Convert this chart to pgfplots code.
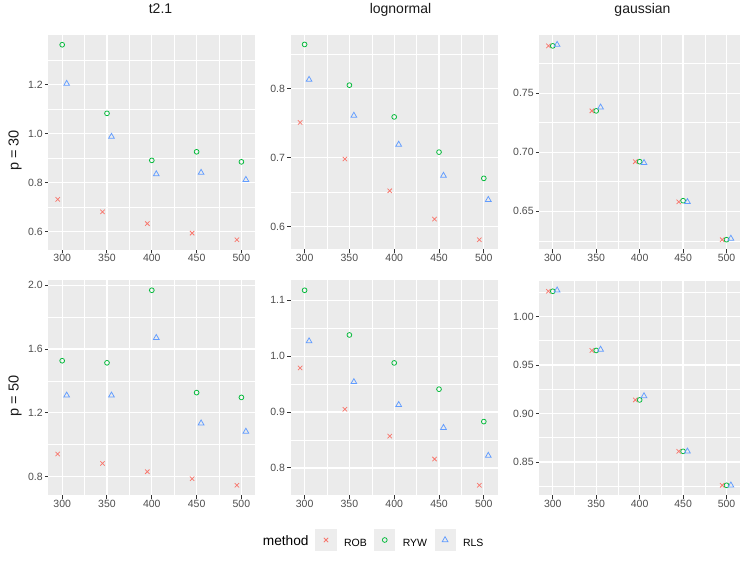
\documentclass[border=0pt]{standalone}
\usepackage{pgfplots}
\pgfplotsset{compat=1.18}
\usepackage{fontspec}
\setmainfont{Liberation Sans}
\definecolor{cROB}{HTML}{F8766D}
\definecolor{cRYW}{HTML}{00BA38}
\definecolor{cRLS}{HTML}{619CFF}
\definecolor{panelbg}{HTML}{EBEBEB}
\definecolor{tickcol}{HTML}{333333}
\definecolor{labcol}{HTML}{4D4D4D}
\definecolor{keybg}{HTML}{EDEDED}
\definecolor{titlecol}{HTML}{1A1A1A}
\pgfplotsset{
 gg/.style={
  scale only axis, width=207pt, height=214.5pt, anchor=north west,
  axis background/.style={fill=panelbg},
  axis line style={draw=none},
  grid=both,
  major grid style={white, line width=1.25pt},
  minor grid style={white, line width=0.6pt},
  tick align=outside, major tick length=3.5pt, minor tick length=0pt,
  tick style={tickcol, line width=1.0pt},
  tick pos=left,
  xmin=284.5, xmax=515.5,
  xtick={300,350,400,450,500},
  xticklabels={300,350,400,450,500},
  minor xtick={325,375,425,475},
  ticklabel style={font=\fontsize{10.5}{12}\selectfont, text=labcol},
  xticklabel style={inner sep=0pt, yshift=-1pt},
  yticklabel style={inner sep=0pt, xshift=-2pt},
  only marks,
 },
 rob/.style={mark=x, mark size=3.1pt, draw=cROB, mark options={draw=cROB, line width=0.75pt}},
 ryw/.style={mark=o, mark size=2.4pt, draw=cRYW, mark options={draw=cRYW, fill=none, line width=0.75pt}},
 rls/.style={mark=triangle, mark size=3.3pt, draw=cRLS, mark options={draw=cRLS, fill=none, line width=0.75pt}},
}
\begin{document}
\begin{tikzpicture}
\path[use as bounding box] (0,0) rectangle (747pt,-561pt);
% ---------- legend key backgrounds ----------
\path[fill=keybg, draw=none] (315.3pt,-529.3pt) rectangle (336.7pt,-550.7pt);
\path[fill=keybg, draw=none] (374.0pt,-529.3pt) rectangle (395.4pt,-550.7pt);
\path[fill=keybg, draw=none] (435.0pt,-529.3pt) rectangle (456.4pt,-550.7pt);
% ---------- row p = 30 ----------
\begin{axis}[gg, at={(48.3pt,-35pt)},
  ymin=0.5272, ymax=1.4028,
  ytick={0.6,0.8,1.0,1.2}, yticklabels={0.6,0.8,1.0,1.2},
  minor ytick={0.7,0.9,1.1,1.3}]
\addplot[rob] coordinates {(295,0.732) (345,0.681) (395,0.633) (445,0.594) (495,0.567)};
\addplot[ryw] coordinates {(300,1.363) (350,1.083) (400,0.891) (450,0.926) (500,0.885)};
\addplot[rls] coordinates {(305,1.204) (355,0.988) (405,0.835) (455,0.841) (505,0.812)};
\end{axis}
\begin{axis}[gg, at={(290.7pt,-35pt)},
  ymin=0.5669, ymax=0.8777,
  ytick={0.6,0.7,0.8}, yticklabels={0.6,0.7,0.8},
  minor ytick={0.65,0.75,0.85}]
\addplot[rob] coordinates {(295,0.751) (345,0.698) (395,0.652) (445,0.611) (495,0.581)};
\addplot[ryw] coordinates {(300,0.864) (350,0.805) (400,0.759) (450,0.708) (500,0.670)};
\addplot[rls] coordinates {(305,0.813) (355,0.761) (405,0.719) (455,0.674) (505,0.639)};
\end{axis}
\begin{axis}[gg, width=200.7pt, at={(539.3pt,-35pt)},
  ymin=0.6177, ymax=0.7992,
  ytick={0.65,0.70,0.75}, yticklabels={0.65,0.70,0.75},
  minor ytick={0.625,0.675,0.725,0.775}]
\addplot[rob] coordinates {(295,0.790) (345,0.735) (395,0.692) (445,0.658) (495,0.626)};
\addplot[ryw] coordinates {(300,0.790) (350,0.735) (400,0.692) (450,0.659) (500,0.626)};
\addplot[rls] coordinates {(305,0.791) (355,0.738) (405,0.691) (455,0.658) (505,0.627)};
\end{axis}
% ---------- row p = 50 ----------
\begin{axis}[gg, at={(48.3pt,-280.5pt)},
  ymin=0.6849, ymax=2.0302,
  ytick={0.8,1.2,1.6,2.0}, yticklabels={0.8,1.2,1.6,2.0},
  minor ytick={1.0,1.4,1.8}]
\addplot[rob] coordinates {(295,0.942) (345,0.883) (395,0.831) (445,0.787) (495,0.746)};
\addplot[ryw] coordinates {(500,1.297) (300,1.527) (350,1.514) (400,1.969) (450,1.327)};
\addplot[rls] coordinates {(305,1.310) (355,1.310) (405,1.671) (455,1.135) (505,1.083)};
\end{axis}
\begin{axis}[gg, at={(290.7pt,-280.5pt)},
  ymin=0.7516, ymax=1.1355,
  ytick={0.8,0.9,1.0,1.1}, yticklabels={0.8,0.9,1.0,1.1},
  minor ytick={0.85,0.95,1.05}]
\addplot[rob] coordinates {(295,0.979) (345,0.905) (395,0.857) (445,0.816) (495,0.769)};
\addplot[ryw] coordinates {(300,1.118) (350,1.038) (400,0.988) (450,0.941) (500,0.883)};
\addplot[rls] coordinates {(305,1.027) (355,0.954) (405,0.913) (455,0.872) (505,0.822)};
\end{axis}
\begin{axis}[gg, width=200.7pt, at={(539.3pt,-280.5pt)},
  ymin=0.8160, ymax=1.0371,
  ytick={0.85,0.90,0.95,1.00}, yticklabels={0.85,0.90,0.95,1.00},
  minor ytick={0.825,0.875,0.925,0.975,1.025}]
\addplot[rob] coordinates {(295,1.026) (345,0.965) (395,0.914) (445,0.861) (495,0.826)};
\addplot[ryw] coordinates {(300,1.026) (350,0.965) (400,0.914) (450,0.861) (500,0.826)};
\addplot[rls] coordinates {(305,1.027) (355,0.966) (405,0.918) (455,0.861) (505,0.826)};
\end{axis}
% ---------- legend (hidden axis) ----------
\begin{axis}[hide axis, scale only axis, width=10pt, height=10pt,
  at={(315.3pt,-545pt)}, anchor=south west,
  xmin=0, xmax=1, ymin=0, ymax=1,
  legend columns=-1,
  legend image code/.code={
   \path[draw=none, fill=none] (-10.7pt,-6.7pt) rectangle (10.7pt,14.7pt);
   \draw[#1, mark repeat=2, mark phase=2, only marks] plot coordinates {(-1pt,4pt)(0pt,4pt)(1pt,4pt)};
  },
  legend style={at={(0,0.5)}, anchor=west, draw=none, fill=none,
    inner sep=0pt, outer sep=0pt,
    nodes={inner sep=0pt, font=\fontsize{10.5}{12}\selectfont, text=black, fill=none},
    /tikz/every odd column/.style={column sep=7.3pt},
    /tikz/every even column/.style={column sep=7.3pt}}]
\addlegendimage{rob, only marks}
\addlegendentry{ROB}
\addlegendimage{ryw, only marks}
\addlegendentry{RYW}
\addlegendimage{rls, only marks}
\addlegendentry{RLS}
\end{axis}
% ---------- titles ----------
\node[anchor=base, inner sep=0pt, font=\fontsize{14}{16}\selectfont, text=titlecol] at (160.5pt,-14pt) {t2.1};
\node[anchor=base, inner sep=0pt, font=\fontsize{14}{16}\selectfont, text=titlecol] at (400.5pt,-14pt) {lognormal};
\node[anchor=base, inner sep=0pt, font=\fontsize{14}{16}\selectfont, text=titlecol] at (642.5pt,-14pt) {gaussian};
\node[anchor=base, rotate=90, inner sep=0pt, font=\fontsize{14.5}{16}\selectfont, text=titlecol] at (18.7pt,-150.5pt) {p = 30};
\node[anchor=base, rotate=90, inner sep=0pt, font=\fontsize{14.5}{16}\selectfont, text=titlecol] at (18.7pt,-396pt) {p = 50};
\node[anchor=base west, inner sep=0pt, font=\fontsize{13.7}{16}\selectfont, text=black] at (262.7pt,-545.7pt) {method};
\end{tikzpicture}
\end{document}
